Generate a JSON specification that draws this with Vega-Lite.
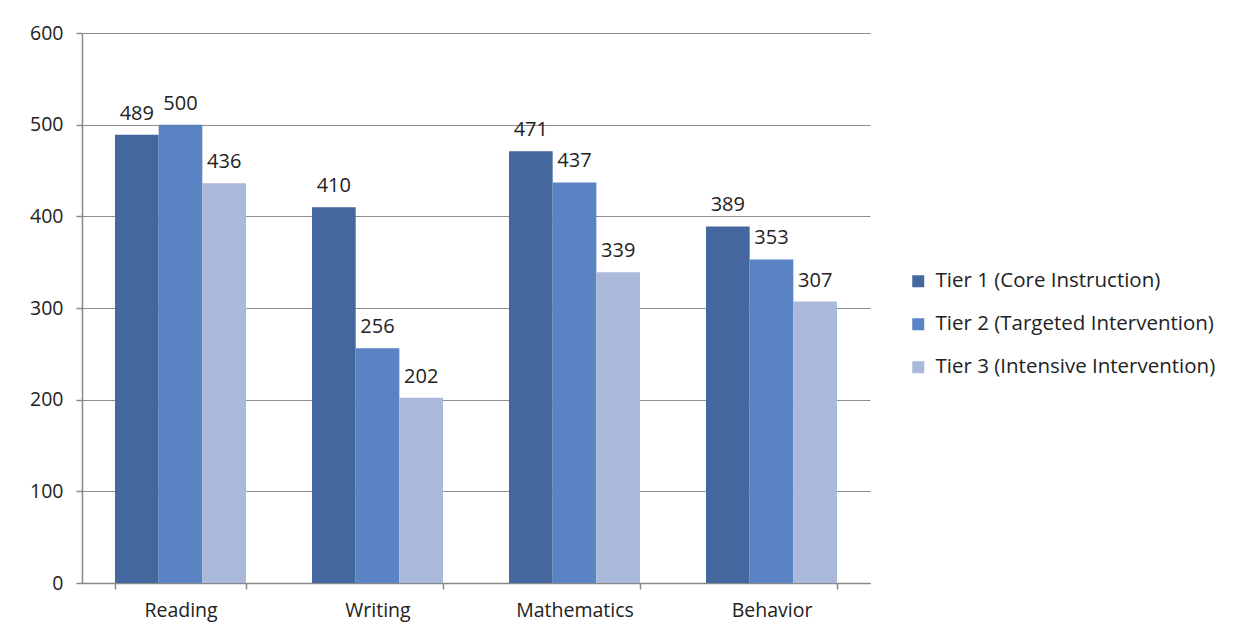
{
  "$schema": "https://vega.github.io/schema/vega-lite/v6.json",
  "width": 788,
  "height": 550,
  "autosize": {"type": "none"},
  "padding": {"left": 82, "top": 33, "right": 371, "bottom": 58},
  "background": "white",
  "config": {
    "view": {"stroke": null},
    "font": "Open Sans",
    "axis": {"labelFont": "Open Sans", "labelFontSize": 19.5, "labelColor": "#222222", "domainColor": "#888888", "tickColor": "#888888", "gridColor": "#8c8c8c", "title": null},
    "legend": {"labelFont": "Open Sans", "labelFontSize": 20.5, "labelColor": "#222222", "labelLimit": 400}
  },
  "data": {
    "values": [
      {"subject": "Reading", "tier": "Tier 1 (Core Instruction)", "value": 489},
      {"subject": "Reading", "tier": "Tier 2 (Targeted Intervention)", "value": 500},
      {"subject": "Reading", "tier": "Tier 3 (Intensive Intervention)", "value": 436},
      {"subject": "Writing", "tier": "Tier 1 (Core Instruction)", "value": 410},
      {"subject": "Writing", "tier": "Tier 2 (Targeted Intervention)", "value": 256},
      {"subject": "Writing", "tier": "Tier 3 (Intensive Intervention)", "value": 202},
      {"subject": "Mathematics", "tier": "Tier 1 (Core Instruction)", "value": 471},
      {"subject": "Mathematics", "tier": "Tier 2 (Targeted Intervention)", "value": 437},
      {"subject": "Mathematics", "tier": "Tier 3 (Intensive Intervention)", "value": 339},
      {"subject": "Behavior", "tier": "Tier 1 (Core Instruction)", "value": 389},
      {"subject": "Behavior", "tier": "Tier 2 (Targeted Intervention)", "value": 353},
      {"subject": "Behavior", "tier": "Tier 3 (Intensive Intervention)", "value": 307}
    ]
  },
  "encoding": {
    "x": {
      "field": "subject", "type": "nominal",
      "sort": ["Reading", "Writing", "Mathematics", "Behavior"],
      "scale": {"paddingInner": 0.335, "paddingOuter": 0.1675},
      "axis": {"labelAngle": 0, "tickBand": "extent", "tickSize": 6, "labelPadding": 12, "domainWidth": 1.5, "tickWidth": 1.5}
    },
    "xOffset": {
      "field": "tier", "type": "nominal",
      "scale": {"paddingInner": 0, "paddingOuter": 0}
    },
    "y": {
      "field": "value", "type": "quantitative",
      "scale": {"domain": [0, 600], "nice": false},
      "axis": {"values": [0, 100, 200, 300, 400, 500, 600], "labelOverlap": false, "tickSize": 6, "labelPadding": 13, "domainWidth": 1.5, "tickWidth": 1.5, "gridWidth": 1.2}
    }
  },
  "layer": [
    {
      "mark": {"type": "bar"},
      "encoding": {
        "color": {
          "field": "tier", "type": "nominal",
          "scale": {"range": ["#44689d", "#5a83c4", "#aab9d9"]},
          "legend": {"title": null, "orient": "none", "legendX": 826, "legendY": 238, "symbolType": "square", "symbolSize": 144, "symbolStrokeWidth": 0, "rowPadding": 22, "labelOffset": 7}
        }
      }
    },
    {
      "mark": {"type": "text", "baseline": "bottom", "dy": -11, "fontSize": 20, "color": "#222222"},
      "encoding": {"text": {"field": "value", "type": "quantitative"}}
    }
  ]
}
